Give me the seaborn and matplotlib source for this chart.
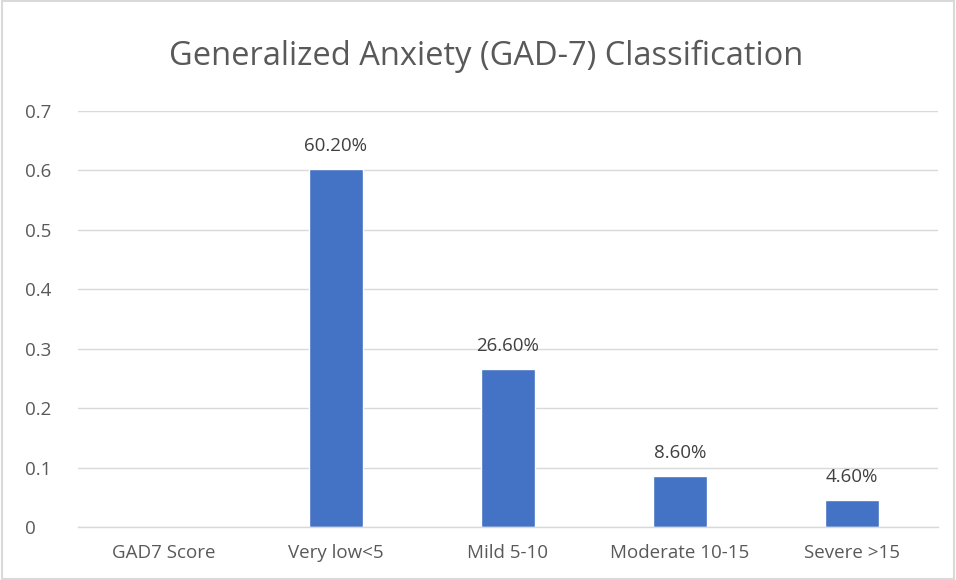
import matplotlib
matplotlib.use("Agg")
import matplotlib.pyplot as plt
import seaborn as sns
import pandas as pd

categories = ["GAD7 Score", "Very low<5", "Mild 5-10", "Moderate 10-15", "Severe >15"]
values = [0.0, 0.602, 0.266, 0.086, 0.046]
value_labels = ["", "60.20%", "26.60%", "8.60%", "4.60%"]
y_ticks = [0, 0.1, 0.2, 0.3, 0.4, 0.5, 0.6, 0.7]
y_tick_labels = ["0", "0.1", "0.2", "0.3", "0.4", "0.5", "0.6", "0.7"]

df = pd.DataFrame({"category": categories, "value": values})

sns.set_theme(style="white")
plt.rcParams["font.family"] = ["Open Sans", "DejaVu Sans"]
text_color = "#595959"

fig = plt.figure(figsize=(9.56, 5.8), dpi=100)
ax = fig.add_axes([0.0816, 0.0914, 0.8994, 0.7172])

sns.barplot(data=df, x="category", y="value", color="#4472C4", width=0.315,
            saturation=1, ax=ax)

ax.set_ylim(0, 0.7)
ax.set_yticks(y_ticks)
ax.set_yticklabels(y_tick_labels)
ax.yaxis.grid(True, color="#d9d9d9", linewidth=1)
ax.set_axisbelow(True)
for side in ["top", "right", "left"]:
    ax.spines[side].set_visible(False)
ax.spines["bottom"].set_color("#d9d9d9")
ax.spines["bottom"].set_linewidth(1)
ax.set_xlabel("")
ax.set_ylabel("")
ax.tick_params(axis="both", length=0, labelsize=13.5, colors=text_color)
ax.tick_params(axis="x", pad=12)
ax.tick_params(axis="y", pad=38)
for lbl in ax.get_yticklabels():
    lbl.set_horizontalalignment("left")

ax.bar_label(ax.containers[0], labels=value_labels, padding=10,
             fontsize=13.5, color="#404040")

fig.text(0.509, 0.902, "Generalized Anxiety (GAD-7) Classification",
         ha="center", va="center", fontsize=23.5, color=text_color)

# light frame round the chart
border = plt.Rectangle((0.002, 0.002), 0.996, 0.996, transform=fig.transFigure,
                       fill=False, edgecolor="#d9d9d9", linewidth=1.5)
fig.patches.append(border)

fig.savefig("out.png", dpi=100)
